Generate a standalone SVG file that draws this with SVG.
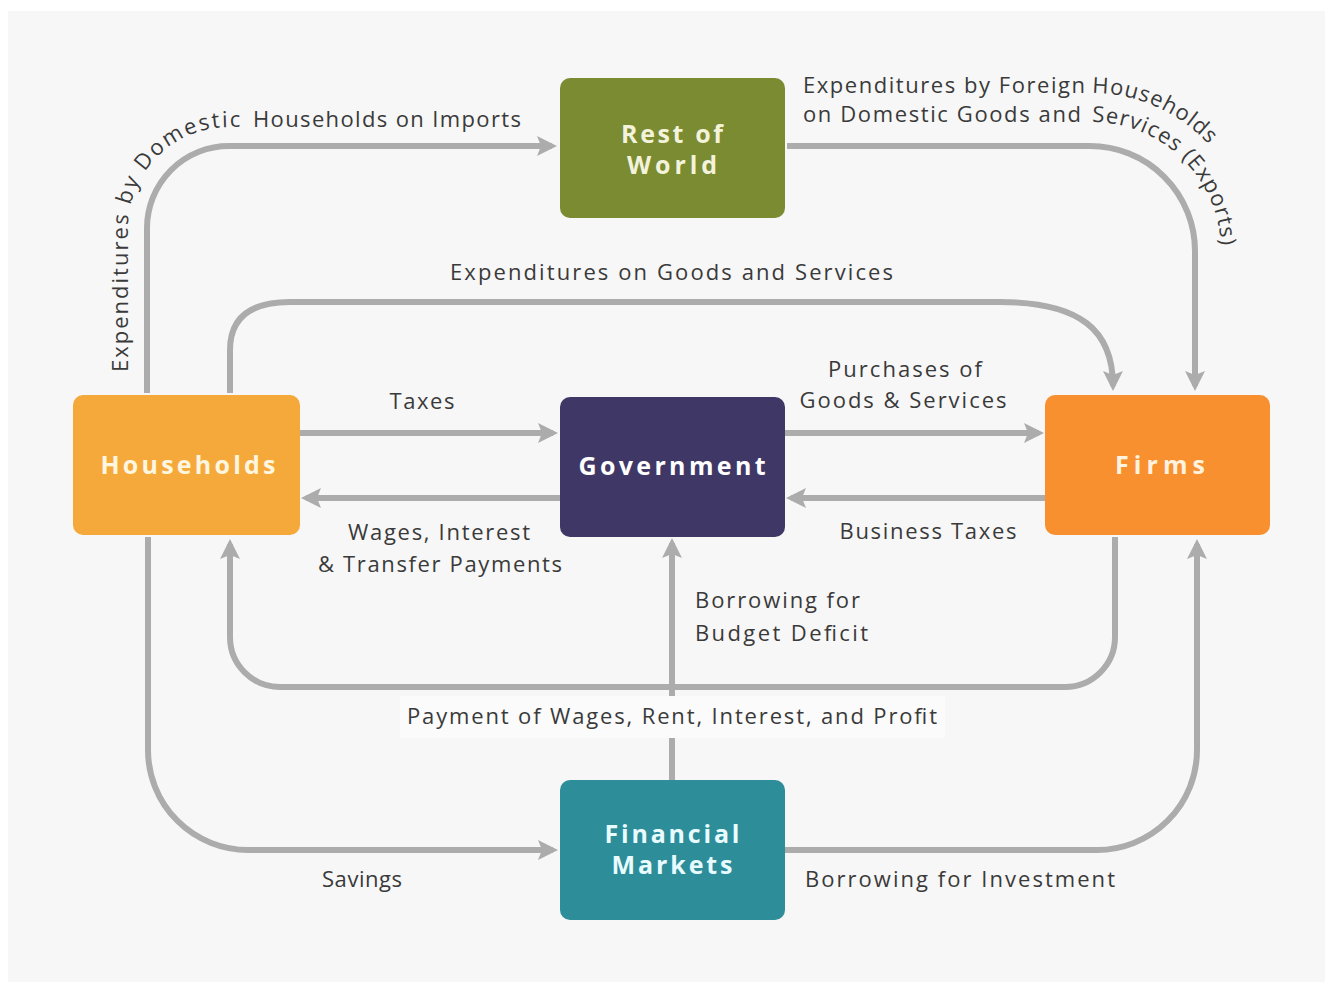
<svg xmlns="http://www.w3.org/2000/svg" width="1325" height="982" viewBox="0 0 1325 982">
<style>
.node-rect{stroke:none}
.node-text{font-family:"Open Sans","Liberation Sans",sans-serif;font-weight:700;font-size:25px;text-anchor:middle}
.lbl{font-family:"Open Sans","Liberation Sans",sans-serif;font-size:22px;fill:#3a3a3a}
.curved{letter-spacing:1px}
.imp{letter-spacing:2px}
.mid{text-anchor:middle}
.conn{fill:none;stroke:#acacac;stroke-width:6}
</style>
<defs>
<marker id="arr" markerUnits="userSpaceOnUse" markerWidth="22" markerHeight="22" refX="15" refY="10" orient="auto">
<path d="M0,0 L20,10 L0,20 L4,10 z" fill="#acacac"/>
</marker>
<path id="tp-imports" d="M128,372 V228 A101,101 0 0 1 229,127 H260"/>
<path id="tp-exp1" d="M1092,93 A158,158 0 0 1 1250,251 V300"/>
<path id="tp-exp2" d="M1092,122 A129,129 0 0 1 1221,251 V300"/>
</defs>
<rect x="0" y="0" width="1325" height="982" fill="#ffffff"/>
<rect x="8" y="11" width="1317" height="971" fill="#f7f7f7"/>

<g id="connectors">
<path class="conn" d="M147,393 V228 A82,82 0 0 1 229,146 H552" marker-end="url(#arr)"/>
<path class="conn" d="M787,146 H1090 A105,105 0 0 1 1195,251 V386" marker-end="url(#arr)"/>
<path class="conn" d="M230,393 V350 C230,318 250,302 290,302 H1000 C1080,302 1113,330 1113,386" marker-end="url(#arr)"/>
<path class="conn" d="M300,433 H553" marker-end="url(#arr)"/>
<path class="conn" d="M560,498 H306" marker-end="url(#arr)"/>
<path class="conn" d="M785,433 H1039" marker-end="url(#arr)"/>
<path class="conn" d="M1045,498 H791" marker-end="url(#arr)"/>
<path class="conn" d="M672,780 V543" marker-end="url(#arr)"/>
<path class="conn" d="M1115,537 V637 A50,50 0 0 1 1065,687 H280 A50,50 0 0 1 230,637 V544" marker-end="url(#arr)"/>
<path class="conn" d="M148,537 V750 A100,100 0 0 0 248,850 H553" marker-end="url(#arr)"/>
<path class="conn" d="M785,850 H1097 A100,100 0 0 0 1197,750 V544" marker-end="url(#arr)"/>
</g>

<g id="labels">
<rect x="400" y="696" width="545" height="42" fill="#fbfbfb"/>
<text class="lbl imp"><textPath href="#tp-imports">Expenditures by Domestic</textPath></text>
<text class="lbl" x="253" y="127" textLength="268" lengthAdjust="spacing">Households on Imports</text>
<text class="lbl" x="803" y="93" textLength="282" lengthAdjust="spacing">Expenditures by Foreign</text>
<text class="lbl curved"><textPath href="#tp-exp1">Households</textPath></text>
<text class="lbl" x="803" y="122" textLength="278" lengthAdjust="spacing">on Domestic Goods and</text>
<text class="lbl curved"><textPath href="#tp-exp2">Services (Exports)</textPath></text>
<text class="lbl" x="450" y="280" textLength="443" lengthAdjust="spacing">Expenditures on Goods and Services</text>
<text class="lbl mid" x="422" y="409" textLength="65" lengthAdjust="spacing">Taxes</text>
<text class="lbl mid" x="905" y="377" textLength="154" lengthAdjust="spacing">Purchases of</text>
<text class="lbl mid" x="903" y="408" textLength="207" lengthAdjust="spacing">Goods &amp; Services</text>
<text class="lbl mid" x="439" y="540" textLength="182" lengthAdjust="spacing">Wages, Interest</text>
<text class="lbl mid" x="440" y="572" textLength="244" lengthAdjust="spacing">&amp; Transfer Payments</text>
<text class="lbl mid" x="928" y="539" textLength="177" lengthAdjust="spacing">Business Taxes</text>
<text class="lbl" x="695" y="608" textLength="165" lengthAdjust="spacing">Borrowing for</text>
<text class="lbl" x="695" y="641" textLength="173" lengthAdjust="spacing">Budget Deficit</text>
<text class="lbl mid" x="672" y="724" textLength="530" lengthAdjust="spacing">Payment of Wages, Rent, Interest, and Profit</text>
<text class="lbl" x="322" y="887" textLength="80" lengthAdjust="spacing">Savings</text>
<text class="lbl" x="805" y="887" textLength="310" lengthAdjust="spacing">Borrowing for Investment</text>
</g>

<g id="rest-of-world">
<rect class="node-rect" x="560" y="78" width="225" height="140" rx="10" fill="#7b8b32"/>
<text class="node-text" x="672" y="143" fill="#f3f3dc" textLength="102" lengthAdjust="spacing">Rest of</text>
<text class="node-text" x="672" y="174" fill="#f3f3dc" textLength="90" lengthAdjust="spacing">World</text>
</g>
<g id="households">
<rect class="node-rect" x="73" y="395" width="227" height="140" rx="10" fill="#f6a93b"/>
<text class="node-text" x="188" y="474" fill="#fff6e0" textLength="175" lengthAdjust="spacing">Households</text>
</g>
<g id="government">
<rect class="node-rect" x="560" y="397" width="225" height="140" rx="10" fill="#3f3866"/>
<text class="node-text" x="672" y="475" fill="#ffffff" textLength="187" lengthAdjust="spacing">Government</text>
</g>
<g id="firms">
<rect class="node-rect" x="1045" y="395" width="225" height="140" rx="10" fill="#f8902f"/>
<text class="node-text" x="1160" y="474" fill="#fff3e0" textLength="90" lengthAdjust="spacing">Firms</text>
</g>
<g id="financial-markets">
<rect class="node-rect" x="560" y="780" width="225" height="140" rx="10" fill="#2d8d99"/>
<text class="node-text" x="672" y="843" fill="#e8fbff" textLength="135" lengthAdjust="spacing">Financial</text>
<text class="node-text" x="672" y="874" fill="#e8fbff" textLength="121" lengthAdjust="spacing">Markets</text>
</g>
</svg>
